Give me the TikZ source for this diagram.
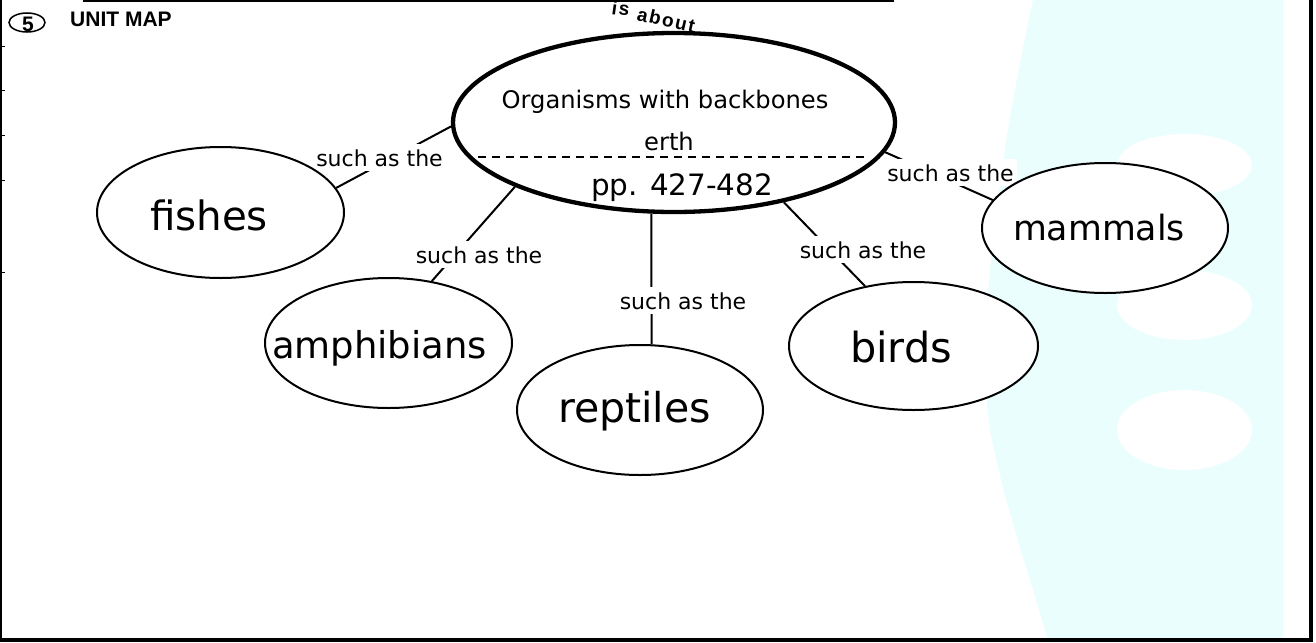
\documentclass[tikz,border=0pt]{standalone}
\usepackage{graphicx}
\usepackage{fontspec}
\setmainfont{DejaVu Sans}
\newfontfamily\arialfont{Liberation Sans}
\newfontfamily\arcfont[LetterSpace=9]{Liberation Sans}
\usetikzlibrary{shapes.geometric}
\definecolor{bgcyan}{RGB}{234,254,254}
\pgfdeclarelayer{back}
\pgfsetlayers{back,main}
\tikzset{
  animal/.style={ellipse, draw, fill=white, line width=2pt, inner sep=0pt},
  word/.style={anchor=base, inner sep=0pt},
  linklabel/.style={anchor=base, fill=white, inner xsep=3pt, inner ysep=5pt,
                    font={\fontsize{22}{26}\selectfont}},
  link/.style={line width=2pt},
  framestroke/.style={line width=#1, line cap=rect},
  arctext/.style={anchor=base west, inner sep=0pt, font={\arcfont\bfseries\fontsize{19}{22}\selectfont}},
}
\newcommand{\bigword}[2]{\resizebox{#1pt}{!}{\fontsize{38}{44}\selectfont #2}}
\begin{document}
\begin{tikzpicture}[x=1pt,y=-1pt]
\useasboundingbox (0,0) rectangle (1316,642);

% ---- concept ellipses ----
\node[ellipse, draw, fill=white, line width=4.3pt, inner sep=0pt,
      minimum width=442pt, minimum height=179pt] (main) at (674,122.5) {};
\node[animal, minimum width=247pt, minimum height=131pt] (fishes) at (220.5,212.5) {};
\node[animal, minimum width=247pt, minimum height=130pt] (amph) at (388.5,343) {};
\node[animal, minimum width=246pt, minimum height=130pt] (rept) at (640,410) {};
\node[animal, minimum width=249pt, minimum height=128pt] (birds) at (913.5,346) {};
\node[animal, minimum width=246pt, minimum height=130pt] (mamm) at (1105,228) {};

% ---- texts in the central ellipse ----
\node[word, font={\fontsize{24.2}{29}\selectfont}] (org) at (665,108) {Organisms with backbones};
\node[word, font={\fontsize{24.2}{29}\selectfont}] (erth) at (669,150) {erth};
\node[word, font={\fontsize{29.4}{34}\selectfont}] (pages) at (682,195) {pp. 427-482};
\coordinate (dashL) at (478,157);
\coordinate (dashR) at (868,157);
\draw[line width=1.8pt, dash pattern=on 8pt off 6pt] (dashL) -- (dashR);

% ---- words in the child ellipses ----
\node[word] (tfishes) at (209,230) {\bigword{118}{fishes}};
\node[word] (tamph) at (379.5,358) {\bigword{215}{amphibians}};
\node[word] (trept) at (634.5,422) {\bigword{153}{reptiles}};
\node[word] (tbirds) at (901,362) {\bigword{102}{birds}};
\node[word] (tmamm) at (1099,240) {\bigword{172}{mammals}};

% ---- header ----
\node[ellipse, draw, line width=1.5pt, inner sep=0pt, minimum width=36pt, minimum height=19pt] (numring) at (27,22.5) {};
\node[word, font={\arialfont\bfseries\fontsize{21}{25}\selectfont}] (num) at (28,32) {5};
\node[anchor=base west, inner sep=0pt, font={\arialfont\bfseries\fontsize{21}{25}\selectfont}] (title) at (70,27) {UNIT MAP};
\node[arctext, rotate=-8] (isw) at (611,14) {is};
\node[arctext, rotate=-13] (aboutw) at (636,20) {about};

\begin{pgfonlayer}{back}
  % background artwork
  \fill[bgcyan] (1033,0) .. controls (1000,150) and (975,330) .. (990,430)
                .. controls (1005,510) and (1035,590) .. (1048,642)
                -- (1283,642) -- (1283,0) -- cycle;
  \fill[white] (1184.5,165) ellipse [x radius=67.5pt, y radius=31pt];
  \fill[white] (1184.5,305) ellipse [x radius=67.5pt, y radius=35pt];
  \fill[white] (1184.5,430) ellipse [x radius=67.5pt, y radius=40pt];
  % frame
  \draw[framestroke=2pt] (1,0) -- (1,640);
  \draw[framestroke=2pt] (84,1) -- (893,1);
  \draw[framestroke=3.5pt] (1,640) -- (1310.5,640);
  \draw[framestroke=4pt] (1310.5,0) -- (1310.5,640);
  \foreach \ty in {47,90,135,180,272} \draw[line width=1pt] (0,\ty) -- (5,\ty);
  % connectors
  \draw[link] (main.181) -- (fishes.12);
  \draw[link] (main.202) -- (amph.55);
  \draw[link] (main.256) -- (rept.80);
  \draw[link] (main.324) -- (birds.129);
  \draw[link] (main.352) -- (mamm.166);
  % link labels
  \node[linklabel] (l1) at (379.5,166) {such as the};
  \node[linklabel] (l2) at (479,263) {such as the};
  \node[linklabel] (l3) at (683,309) {such as the};
  \node[linklabel] (l4) at (863,258) {such as the};
  \node[linklabel] (l5) at (950.5,181) {such as the};
\end{pgfonlayer}
\end{tikzpicture}
\end{document}
